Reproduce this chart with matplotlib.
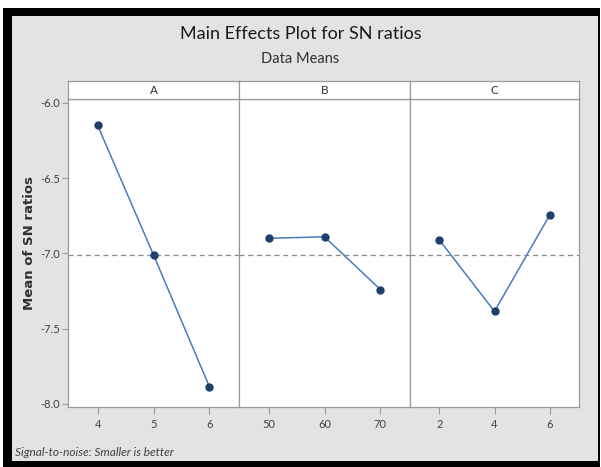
import matplotlib
matplotlib.use("Agg")
import matplotlib.pyplot as plt
from matplotlib.patches import Rectangle

# ---- data ----
factors = ["A", "B", "C"]
levels_A = ["4", "5", "6"]
levels_B = ["50", "60", "70"]
levels_C = ["2", "4", "6"]
means_A = [-6.15, -7.01, -7.885]
means_B = [-6.90, -6.89, -7.24]
means_C = [-6.91, -7.385, -6.745]
grand_mean = -7.013
y_ticks = [-6.0, -6.5, -7.0, -7.5, -8.0]

W, H = 601, 467
fig = plt.figure(figsize=(W / 100, H / 100), dpi=100)
fig.patch.set_facecolor("white")

def fx(px):
    return px / W

def fy(py):
    return 1 - py / H

# frame: black border with gray interior
fig.add_artist(Rectangle((fx(3), fy(467)), fx(600) - fx(3), fy(8) - fy(467),
                         transform=fig.transFigure, facecolor="black", edgecolor="none", zorder=-10))
fig.add_artist(Rectangle((fx(12), fy(461)), fx(598) - fx(12), fy(16) - fy(461),
                         transform=fig.transFigure, facecolor="#e3e3e3", edgecolor="none", zorder=-9))

plt.rcParams["font.family"] = ["Lato", "DejaVu Sans"]

fig.text(0.5, fy(34), "Main Effects Plot for SN ratios", ha="center", va="center",
         fontsize=13, color="#1a1a1a")
fig.text(0.5, fy(59), "Data Means", ha="center", va="center", fontsize=10.5, color="#303030")
fig.text(fx(30), fy(243), "Mean of SN ratios", rotation=90, ha="center", va="center",
         fontsize=9.5, fontweight="bold", color="#303030", family="DejaVu Sans")
fig.text(fx(15), fy(452), "Signal-to-noise: Smaller is better", ha="left", va="center",
         fontsize=8.6, style="italic", color="#404040")

panel_x = [(68, 239), (239, 410), (410, 579)]
top, bottom, strip_top = 99, 407, 81
levels = [levels_A, levels_B, levels_C]
means = [means_A, means_B, means_C]
edge = "#9a9a9a"

for i, (x0, x1) in enumerate(panel_x):
    ax = fig.add_axes([fx(x0), fy(bottom), fx(x1) - fx(x0), fy(top) - fy(bottom)])
    ax.set_facecolor("white")
    xs = list(range(1, len(levels[i]) + 1))
    ax.axhline(grand_mean, color="#8a8a8a", lw=0.9, ls=(0, (4, 3)), zorder=1)
    ax.plot(xs, means[i], color="#4a7bbb", lw=1.1, zorder=2)
    ax.plot(xs, means[i], ls="none", marker="o", ms=5, mfc="#1d3f6e", mec="#1d3f6e", zorder=3)
    ax.set_xlim(0.47, 3.53)
    ax.set_ylim(-8.02, -5.975)
    ax.set_xticks(xs)
    ax.set_xticklabels(levels[i], fontsize=8, color="#404040")
    ax.set_yticks(y_ticks)
    if i == 0:
        ax.set_yticklabels([f"{v:.1f}" for v in y_ticks], fontsize=8, color="#404040")
        ax.tick_params(axis="y", length=4, color=edge, pad=2)
    else:
        ax.tick_params(axis="y", length=0, labelleft=False)
    ax.tick_params(axis="x", length=5, color=edge, pad=4)
    for s in ax.spines.values():
        s.set_color(edge)
        s.set_linewidth(0.9)
    # strip
    sax = fig.add_axes([fx(x0), fy(top), fx(x1) - fx(x0), fy(strip_top) - fy(top)])
    sax.set_facecolor("white")
    sax.set_xticks([])
    sax.set_yticks([])
    for s in sax.spines.values():
        s.set_color(edge)
        s.set_linewidth(0.9)
    sax.text(0.5, 0.5, factors[i], ha="center", va="center", fontsize=8.5, color="#303030",
             transform=sax.transAxes)

fig.savefig("out.png", dpi=100, facecolor=fig.get_facecolor())
